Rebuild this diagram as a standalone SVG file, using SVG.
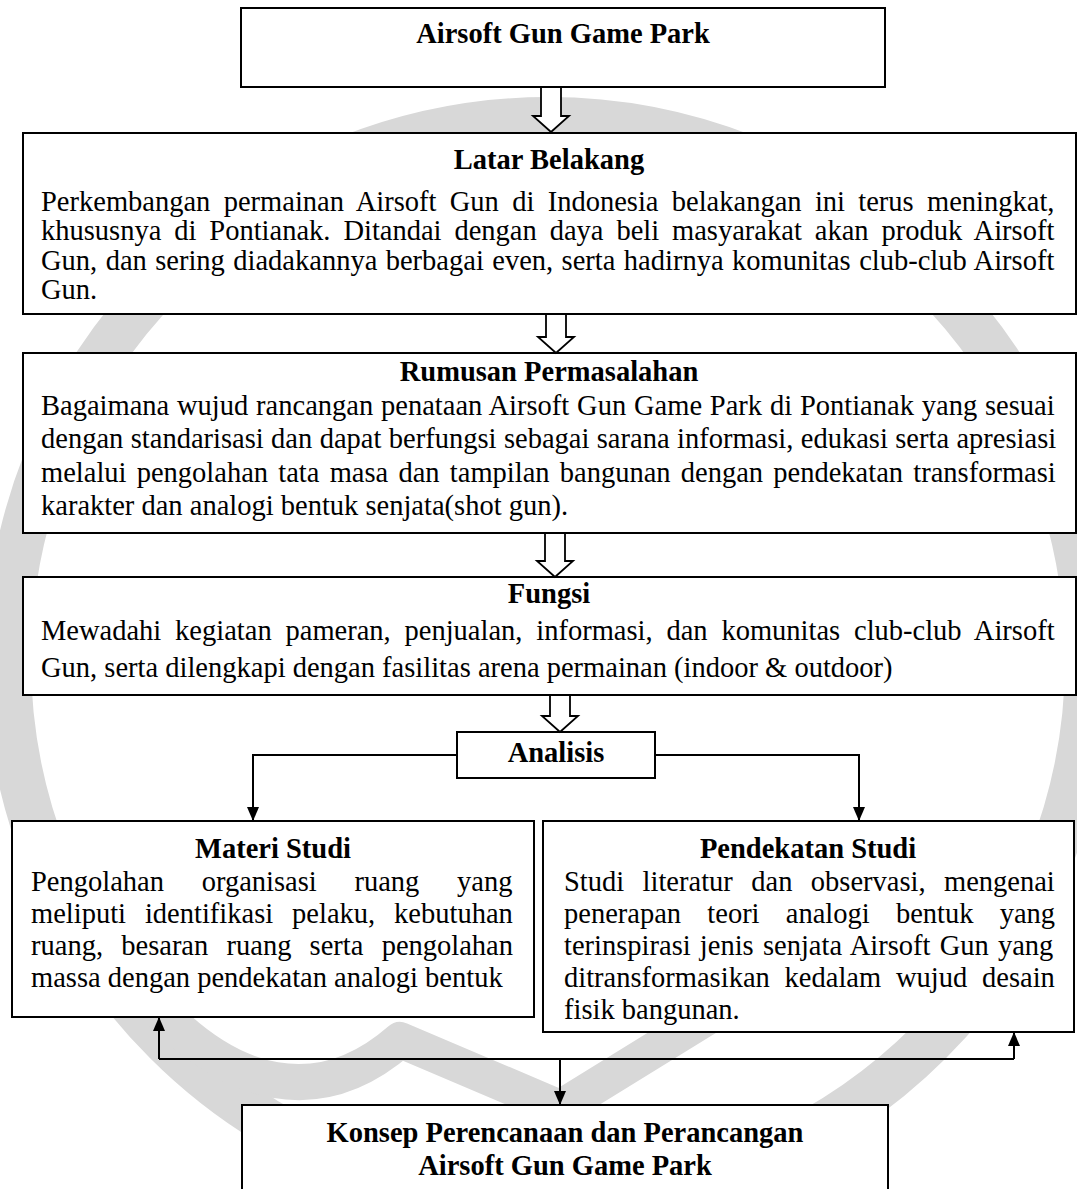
<svg xmlns="http://www.w3.org/2000/svg" width="1077" height="1189" viewBox="0 0 1077 1189">
<defs>
<style>
.box{fill:#fff;stroke:#000;stroke-width:2}
.t{font-family:'Liberation Serif','Times New Roman',serif;font-size:28.5px;fill:#000}
.b{font-weight:bold}
.c{text-anchor:middle}
.blk{fill:#fff;stroke:#000;stroke-width:1.8;stroke-linejoin:miter}
.conn{fill:none;stroke:#000;stroke-width:2}
.wm{fill:none;stroke:#d8d8d8}
</style>
<marker id="ah" viewBox="0 0 14 12" markerWidth="14" markerHeight="12" refX="14" refY="6" orient="auto" markerUnits="userSpaceOnUse">
<path d="M0,0 L14,6 L0,12 z" fill="#000"/>
</marker>
</defs>
<rect width="1077" height="1189" fill="#fff"/>
<g id="watermark">
<circle class="wm" cx="548" cy="660" r="540" stroke-width="46"/>
<path class="wm" d="M150,1000 C230,1090 320,1110 400,1040 L560,1108 L735,1000" stroke-width="36" stroke-linejoin="round"/>
</g>
<g id="n1">
<rect class="box" x="241" y="8" width="644" height="79"/>
<text class="t b c" x="563" y="43">Airsoft Gun Game Park</text>
</g>
<g id="n2">
<rect class="box" x="23" y="133" width="1053" height="181"/>
<text class="t b c" x="549" y="169">Latar Belakang</text>
<text class="t" x="41" y="211" word-spacing="6.2">Perkembangan permainan Airsoft Gun di Indonesia belakangan ini terus meningkat,</text>
<text class="t" x="41" y="240" word-spacing="5.8">khususnya di Pontianak. Ditandai dengan daya beli masyarakat akan produk Airsoft</text>
<text class="t" x="41" y="270" word-spacing="1.3">Gun, dan sering diadakannya berbagai even, serta hadirnya komunitas club-club Airsoft</text>
<text class="t" x="41" y="299">Gun.</text>
</g>
<g id="n3">
<rect class="box" x="23" y="353" width="1053" height="180"/>
<text class="t b c" x="549" y="381">Rumusan Permasalahan</text>
<text class="t" x="41" y="415" word-spacing="0.7">Bagaimana wujud rancangan penataan Airsoft Gun Game Park di Pontianak yang sesuai</text>
<text class="t" x="41" y="448" word-spacing="0.3">dengan standarisasi dan dapat berfungsi sebagai sarana informasi, edukasi serta apresiasi</text>
<text class="t" x="41" y="482" word-spacing="3.1">melalui pengolahan tata masa dan tampilan bangunan dengan pendekatan transformasi</text>
<text class="t" x="41" y="515">karakter dan analogi bentuk senjata(shot gun).</text>
</g>
<g id="n4">
<rect class="box" x="23" y="577" width="1053" height="118"/>
<text class="t b c" x="549" y="603">Fungsi</text>
<text class="t" x="41" y="640" word-spacing="6.7">Mewadahi kegiatan pameran, penjualan, informasi, dan komunitas club-club Airsoft</text>
<text class="t" x="41" y="677">Gun, serta dilengkapi dengan fasilitas arena permainan (indoor &amp; outdoor)</text>
</g>
<g id="n5">
<rect class="box" x="457" y="732" width="198" height="46"/>
<text class="t b c" x="556" y="762">Analisis</text>
</g>
<g id="n6">
<rect class="box" x="12" y="821" width="522" height="196"/>
<text class="t b c" x="273" y="858">Materi Studi</text>
<text class="t" x="31" y="891" word-spacing="30.6">Pengolahan organisasi ruang yang</text>
<text class="t" x="31" y="923" word-spacing="11.8">meliputi identifikasi pelaku, kebutuhan</text>
<text class="t" x="31" y="955" word-spacing="11.1">ruang, besaran ruang serta pengolahan</text>
<text class="t" x="31" y="987">massa dengan pendekatan analogi bentuk</text>
</g>
<g id="n7">
<rect class="box" x="543" y="821" width="531" height="211"/>
<text class="t b c" x="808" y="858">Pendekatan Studi</text>
<text class="t" x="564" y="891" word-spacing="11.3">Studi literatur dan observasi, mengenai</text>
<text class="t" x="564" y="923" word-spacing="19.1">penerapan teori analogi bentuk yang</text>
<text class="t" x="564" y="955" word-spacing="2.1">terinspirasi jenis senjata Airsoft Gun yang</text>
<text class="t" x="564" y="987" word-spacing="7.7">ditransformasikan kedalam wujud desain</text>
<text class="t" x="564" y="1019">fisik bangunan.</text>
</g>
<g id="n8">
<rect class="box" x="242" y="1105" width="646" height="100"/>
<text class="t b c" x="565" y="1142">Konsep Perencanaan dan Perancangan</text>
<text class="t b c" x="565" y="1175">Airsoft Gun Game Park</text>
</g>
<g id="connectors">
<polygon class="blk" points="541,87 561,87 561,116 569,116 551,132 533,116 541,116"/>
<polygon class="blk" points="546,314 566,314 566,337 574,337 556,353 538,337 546,337"/>
<polygon class="blk" points="545,533 565,533 565,561 573,561 555,577 537,561 545,561"/>
<polygon class="blk" points="550,695 570,695 570,716 578,716 560,732 542,716 550,716"/>
<path class="conn" d="M457,755 H253 V821" marker-end="url(#ah)"/>
<path class="conn" d="M655,755 H859 V821" marker-end="url(#ah)"/>
<path class="conn" d="M159,1059 H1014"/>
<path class="conn" d="M159,1059 V1017" marker-end="url(#ah)"/>
<path class="conn" d="M1014,1059 V1032" marker-end="url(#ah)"/>
<path class="conn" d="M560,1059 V1105" marker-end="url(#ah)"/>
</g>
</svg>
